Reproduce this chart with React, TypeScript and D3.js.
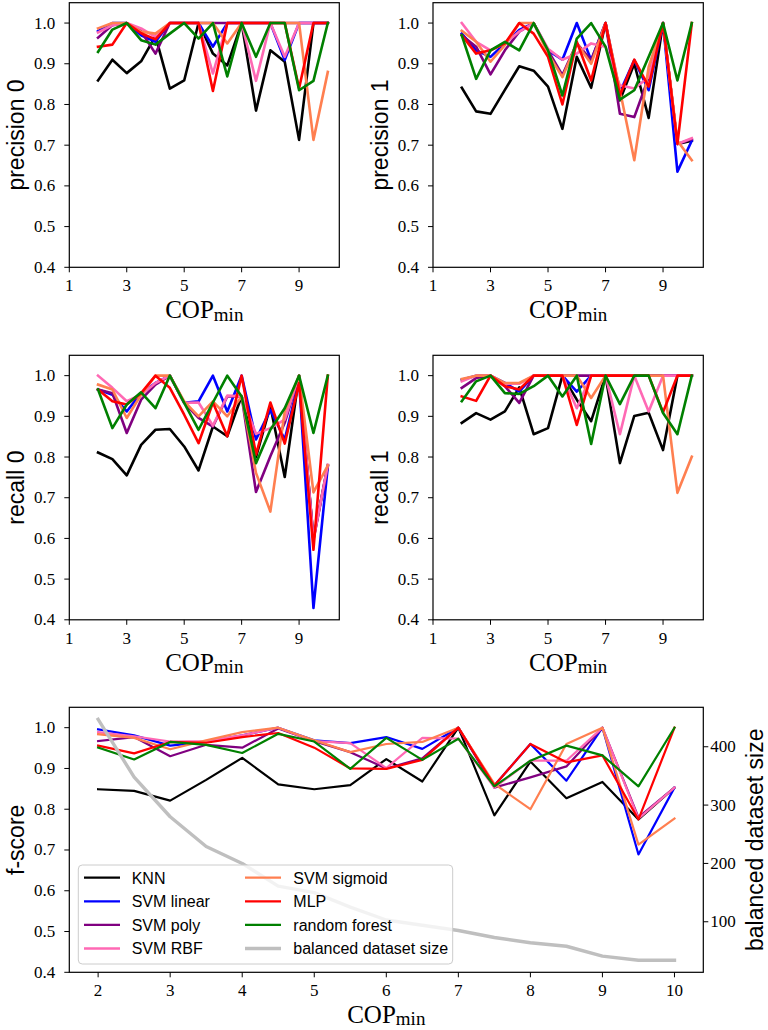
import React from 'react';
import * as d3 from 'd3';

// ---------- data ----------
const copMin = [2, 2.5, 3, 3.5, 4, 4.5, 5, 5.5, 6, 6.5, 7, 7.5, 8, 8.5, 9, 9.5, 10];
const models = ['KNN', 'SVM linear', 'SVM poly', 'SVM RBF', 'SVM sigmoid', 'MLP', 'random forest'];
const sizeName = 'balanced dataset size';
const smallXTicks = [1, 3, 5, 7, 9];
const bigXTicks = [2, 3, 4, 5, 6, 7, 8, 9, 10];
const scoreTicks = [0.4, 0.5, 0.6, 0.7, 0.8, 0.9, 1.0];
const sizeTicks = [100, 200, 300, 400];

// order of rows: KNN, SVM linear, SVM poly, SVM RBF, SVM sigmoid, MLP, random forest
const precision0 = [
  [0.859, 0.91, 0.877, 0.906, 0.968, 0.839, 0.859, 1.0, 0.925, 0.896, 1.0, 0.785, 0.933, 0.905, 0.713, 1.0, 1.0],
  [0.98, 1.0, 1.0, 0.97, 0.954, 1.0, 1.0, 1.0, 0.942, 1.0, 1.0, 1.0, 1.0, 0.909, 1.0, 1.0, 1.0],
  [0.964, 0.995, 1.0, 0.98, 0.925, 1.0, 1.0, 1.0, 1.0, 1.0, 1.0, 1.0, 1.0, 1.0, 1.0, 1.0, 1.0],
  [0.977, 0.995, 1.0, 0.987, 0.966, 1.0, 1.0, 1.0, 0.876, 1.0, 1.0, 0.858, 1.0, 0.917, 1.0, 1.0, 1.0],
  [0.987, 1.0, 1.0, 0.979, 0.974, 1.0, 1.0, 1.0, 1.0, 0.95, 1.0, 1.0, 1.0, 1.0, 1.0, 0.713, 0.88],
  [0.942, 0.947, 1.0, 0.975, 0.96, 1.0, 1.0, 1.0, 0.833, 1.0, 1.0, 1.0, 1.0, 1.0, 0.84, 1.0, 1.0],
  [0.929, 0.984, 1.0, 0.958, 0.947, 0.974, 1.0, 0.962, 1.0, 0.869, 1.0, 0.917, 1.0, 1.0, 0.835, 0.858, 1.0],
];

const precision1 = [
  [0.841, 0.783, 0.777, 0.836, 0.894, 0.883, 0.844, 0.74, 0.917, 0.841, 1.0, 0.81, 0.9, 0.767, 1.0, 0.703, 0.711],
  [0.974, 0.933, 0.917, 0.95, 0.983, 1.0, 0.933, 0.91, 1.0, 0.909, 1.0, 0.83, 0.909, 0.835, 1.0, 0.635, 0.711],
  [0.97, 0.942, 0.874, 0.933, 0.979, 1.0, 0.933, 0.872, 0.95, 0.909, 1.0, 0.777, 0.769, 0.867, 1.0, 0.703, 0.715],
  [1.0, 0.954, 0.933, 0.95, 0.979, 1.0, 0.937, 0.91, 0.925, 0.95, 0.942, 0.847, 0.839, 0.867, 1.0, 0.703, 0.717],
  [0.981, 0.954, 0.905, 0.946, 1.0, 1.0, 0.925, 0.867, 0.95, 0.9, 1.0, 0.835, 0.663, 0.892, 1.0, 0.711, 0.663],
  [0.97, 0.925, 0.933, 0.95, 1.0, 0.974, 0.917, 0.8, 0.954, 0.859, 1.0, 0.822, 0.91, 0.844, 1.0, 0.703, 1.0],
  [0.97, 0.863, 0.933, 0.954, 0.933, 1.0, 0.933, 0.822, 0.962, 1.0, 0.942, 0.812, 0.835, 0.917, 1.0, 0.859, 1.0],
];

const recall0 = [
  [0.811, 0.795, 0.755, 0.83, 0.867, 0.869, 0.826, 0.767, 0.875, 0.851, 0.95, 0.8, 0.925, 0.751, 1.0, 0.6, 0.78],
  [0.966, 0.953, 0.912, 0.957, 0.982, 1.0, 0.933, 0.937, 1.0, 0.912, 1.0, 0.843, 0.916, 0.843, 0.99, 0.429, 0.777],
  [0.966, 0.957, 0.859, 0.941, 0.978, 1.0, 0.933, 0.896, 0.875, 0.949, 0.949, 0.714, 0.802, 0.884, 1.0, 0.597, 0.777],
  [1.0, 0.97, 0.937, 0.953, 0.982, 1.0, 0.933, 0.934, 0.877, 0.951, 0.949, 0.857, 0.871, 0.892, 1.0, 0.597, 0.781],
  [0.978, 0.966, 0.896, 0.953, 1.0, 1.0, 0.937, 0.9, 0.937, 0.9, 0.949, 0.761, 0.666, 0.912, 1.0, 0.713, 0.779],
  [0.966, 0.937, 0.929, 0.957, 1.0, 0.97, 0.904, 0.834, 0.934, 0.851, 1.0, 0.806, 0.934, 0.833, 0.982, 0.572, 1.0],
  [0.966, 0.871, 0.929, 0.959, 0.92, 1.0, 0.933, 0.867, 0.934, 1.0, 0.949, 0.785, 0.867, 0.92, 1.0, 0.859, 1.0],
];

const recall1 = [
  [0.884, 0.908, 0.892, 0.912, 0.971, 0.856, 0.871, 1.0, 0.941, 0.888, 1.0, 0.785, 0.901, 0.909, 0.817, 1.0, 1.0],
  [0.99, 1.0, 1.0, 0.982, 0.961, 1.0, 1.0, 1.0, 0.961, 1.0, 1.0, 1.0, 1.0, 1.0, 1.0, 1.0, 1.0],
  [0.97, 0.994, 1.0, 0.974, 0.933, 1.0, 1.0, 1.0, 1.0, 1.0, 1.0, 1.0, 1.0, 1.0, 1.0, 1.0, 1.0],
  [0.986, 1.0, 1.0, 0.98, 0.98, 1.0, 1.0, 1.0, 0.92, 1.0, 1.0, 0.856, 1.0, 0.912, 1.0, 1.0, 1.0],
  [0.992, 1.0, 1.0, 0.982, 0.982, 1.0, 1.0, 1.0, 1.0, 0.945, 1.0, 1.0, 1.0, 1.0, 1.0, 0.712, 0.801],
  [0.949, 0.938, 1.0, 0.974, 0.966, 1.0, 1.0, 1.0, 0.879, 1.0, 1.0, 1.0, 1.0, 1.0, 0.91, 1.0, 1.0],
  [0.937, 0.986, 1.0, 0.957, 0.955, 0.974, 1.0, 0.949, 1.0, 0.832, 1.0, 0.93, 1.0, 1.0, 0.908, 0.856, 1.0],
];

const fScore = [
  [0.849, 0.845, 0.821, 0.872, 0.926, 0.861, 0.849, 0.859, 0.923, 0.868, 1.0, 0.785, 0.917, 0.827, 0.867, 0.775, 0.853],
  [0.996, 0.981, 0.956, 0.965, 0.981, 1.0, 0.969, 0.962, 0.977, 0.948, 1.0, 0.858, 0.96, 0.87, 1.0, 0.689, 0.853],
  [0.967, 0.977, 0.93, 0.958, 0.951, 0.998, 0.967, 0.94, 0.9, 0.925, 1.0, 0.853, 0.878, 0.905, 1.0, 0.78, 0.853],
  [0.989, 0.979, 0.966, 0.967, 0.981, 1.0, 0.967, 0.962, 0.901, 0.975, 0.973, 0.853, 0.919, 0.919, 1.0, 0.777, 0.853],
  [0.984, 0.975, 0.947, 0.969, 0.989, 1.0, 0.969, 0.94, 0.96, 0.965, 1.0, 0.862, 0.8, 0.96, 1.0, 0.713, 0.777],
  [0.956, 0.937, 0.965, 0.963, 0.977, 0.987, 0.951, 0.9, 0.899, 0.921, 1.0, 0.858, 0.96, 0.915, 0.932, 0.775, 1.0],
  [0.951, 0.922, 0.965, 0.958, 0.938, 0.985, 0.966, 0.899, 0.975, 0.921, 0.973, 0.856, 0.919, 0.956, 0.932, 0.856, 1.0],
];

const datasetSize = [447, 348, 280, 229, 200, 161, 150, 125, 103, 94, 85, 73, 64, 58, 41, 34, 34];

// ---------- styles ----------
const colors = ['#000000', '#0000ff', '#800080', '#ff69b4', '#ff7f50', '#ff0000', '#008000'];
const sizeColor = '#bfbfbf';
const serif = "'Liberation Serif', 'DejaVu Serif', serif";
const sans = "'Liberation Sans', 'DejaVu Sans', sans-serif";

type Box = { l: number; r: number; t: number; b: number };

const TICK = 5;

function XAxisLabel({ cx, base }: { cx: number; base: number }) {
  return (
    <text x={cx} y={base} textAnchor="middle" fontFamily={serif} fontSize={25}>
      <tspan>COP</tspan>
      <tspan fontSize={19} dy={2.5}>min</tspan>
    </text>
  );
}

function Panel({
  box, series, xDomain, xTicks, ylabel, ylabelX, lw,
}: {
  box: Box; series: number[][]; xDomain: [number, number]; xTicks: number[];
  ylabel: string; ylabelX: number; lw: number;
}) {
  const x = d3.scaleLinear().domain(xDomain).range([box.l, box.r]);
  const y = d3.scaleLinear().domain([0.4, 1.05]).range([box.b, box.t]);
  const line = d3.line<number>().x((_, i) => x(copMin[i])).y((d) => y(d));
  const cy = (box.t + box.b) / 2;
  return (
    <g>
      {series.map((s, k) => (
        <path key={k} d={line(s) || ''} fill="none" stroke={colors[k]} strokeWidth={lw}
          strokeLinejoin="round" strokeLinecap="square" />
      ))}
      <rect x={box.l} y={box.t} width={box.r - box.l} height={box.b - box.t}
        fill="none" stroke="#000" strokeWidth={1.2} />
      {scoreTicks.map((t) => (
        <g key={'y' + t}>
          <line x1={box.l - TICK} x2={box.l} y1={y(t)} y2={y(t)} stroke="#000" strokeWidth={1} />
          <text x={box.l - 14} y={y(t) + 5.5} textAnchor="end" fontFamily={serif} fontSize={17}>
            {t.toFixed(1)}
          </text>
        </g>
      ))}
      {xTicks.map((t) => (
        <g key={'x' + t}>
          <line x1={x(t)} x2={x(t)} y1={box.b} y2={box.b + TICK} stroke="#000" strokeWidth={1} />
          <text x={x(t)} y={box.b + 24} textAnchor="middle" fontFamily={serif} fontSize={17}>
            {String(t)}
          </text>
        </g>
      ))}
      <text transform={`translate(${ylabelX},${cy}) rotate(-90)`} textAnchor="middle"
        fontFamily={sans} fontSize={23}>{ylabel}</text>
      <XAxisLabel cx={(box.l + box.r) / 2} base={box.b + 51} />
    </g>
  );
}

function BottomPanel({ box }: { box: Box }) {
  const x = d3.scaleLinear().domain([1.6, 10.4]).range([box.l, box.r]);
  const y = d3.scaleLinear().domain([0.4, 1.05]).range([box.b, box.t]);
  const [mn, mx] = d3.extent(datasetSize) as [number, number];
  const pad = (mx - mn) * 0.05;
  const y2 = d3.scaleLinear().domain([mn - pad, mx + pad]).range([box.b, box.t]);
  const line = d3.line<number>().x((_, i) => x(copMin[i])).y((d) => y(d));
  const line2 = d3.line<number>().x((_, i) => x(copMin[i])).y((d) => y2(d));
  const cy = (box.t + box.b) / 2;

  const legX = 78.3, legY = 865, legW = 374.4, legH = 99;
  const rowY = (k: number) => 877.7 + 23.6 * k;
  const entries = [
    ...models.map((m, k) => ({ name: m, color: colors[k], w: 2.3 })),
    { name: sizeName, color: sizeColor, w: 3.4 },
  ];

  return (
    <g>
      {fScore.map((s, k) => (
        <path key={k} d={line(s) || ''} fill="none" stroke={colors[k]} strokeWidth={2.2}
          strokeLinejoin="round" strokeLinecap="square" />
      ))}
      <path d={line2(datasetSize) || ''} fill="none" stroke={sizeColor} strokeWidth={3.4}
        strokeLinejoin="round" strokeLinecap="square" />
      <rect x={box.l} y={box.t} width={box.r - box.l} height={box.b - box.t}
        fill="none" stroke="#000" strokeWidth={1.2} />
      {scoreTicks.map((t) => (
        <g key={'y' + t}>
          <line x1={box.l - TICK} x2={box.l} y1={y(t)} y2={y(t)} stroke="#000" strokeWidth={1} />
          <text x={box.l - 14} y={y(t) + 5.5} textAnchor="end" fontFamily={serif} fontSize={17}>
            {t.toFixed(1)}
          </text>
        </g>
      ))}
      {sizeTicks.map((t) => (
        <g key={'r' + t}>
          <line x1={box.r} x2={box.r + TICK} y1={y2(t)} y2={y2(t)} stroke="#000" strokeWidth={1} />
          <text x={box.r + 7} y={y2(t) + 5.5} textAnchor="start" fontFamily={serif} fontSize={17}>
            {String(t)}
          </text>
        </g>
      ))}
      {bigXTicks.map((t) => (
        <g key={'x' + t}>
          <line x1={x(t)} x2={x(t)} y1={box.b} y2={box.b + TICK} stroke="#000" strokeWidth={1} />
          <text x={x(t)} y={box.b + 24} textAnchor="middle" fontFamily={serif} fontSize={17}>
            {String(t)}
          </text>
        </g>
      ))}
      <text transform={`translate(24,${cy}) rotate(-90)`} textAnchor="middle"
        fontFamily={sans} fontSize={23}>f-score</text>
      <text transform={`translate(763,${cy}) rotate(-90)`} textAnchor="middle"
        fontFamily={sans} fontSize={23}>{sizeName}</text>
      <XAxisLabel cx={(box.l + box.r) / 2} base={box.b + 50.5} />

      <rect x={legX} y={legY} width={legW} height={legH} rx={4} ry={4}
        fill="#fff" fillOpacity={0.8} stroke="#cccccc" strokeWidth={1} />
      {entries.map((e, k) => {
        const col = Math.floor(k / 4);
        const row = k % 4;
        const hx = col === 0 ? 84 : 245;
        const tx = col === 0 ? 131.7 : 293.3;
        const ry = rowY(row);
        return (
          <g key={e.name}>
            <line x1={hx} x2={hx + 36} y1={ry} y2={ry} stroke={e.color} strokeWidth={e.w} />
            <text x={tx} y={ry + 5.8} fontFamily={sans} fontSize={16}>{e.name}</text>
          </g>
        );
      })}
    </g>
  );
}

export default function App() {
  const topL: Box = { l: 69.3, r: 339.3, t: 2.7, b: 267.3 };
  const topR: Box = { l: 433.0, r: 703.3, t: 2.7, b: 267.3 };
  const midL: Box = { l: 69.3, r: 339.3, t: 355.3, b: 619.8 };
  const midR: Box = { l: 433.0, r: 703.3, t: 355.3, b: 619.8 };
  const bot: Box = { l: 69.3, r: 703.3, t: 707.3, b: 972.3 };
  return (
    <div style={{ position: 'absolute', left: 0, top: 0, width: 768, height: 1030, background: '#fff' }}>
      <svg width={768} height={1030} viewBox="0 0 768 1030" style={{ display: 'block' }}>
        <rect x={0} y={0} width={768} height={1030} fill="#fff" />
        <Panel box={topL} series={precision0} xDomain={[1, 10.4]} xTicks={smallXTicks}
          ylabel="precision 0" ylabelX={24} lw={2.6} />
        <Panel box={topR} series={precision1} xDomain={[1, 10.4]} xTicks={smallXTicks}
          ylabel="precision 1" ylabelX={388} lw={2.6} />
        <Panel box={midL} series={recall0} xDomain={[1, 10.4]} xTicks={smallXTicks}
          ylabel="recall 0" ylabelX={24} lw={2.6} />
        <Panel box={midR} series={recall1} xDomain={[1, 10.4]} xTicks={smallXTicks}
          ylabel="recall 1" ylabelX={388} lw={2.6} />
        <BottomPanel box={bot} />
      </svg>
    </div>
  );
}
